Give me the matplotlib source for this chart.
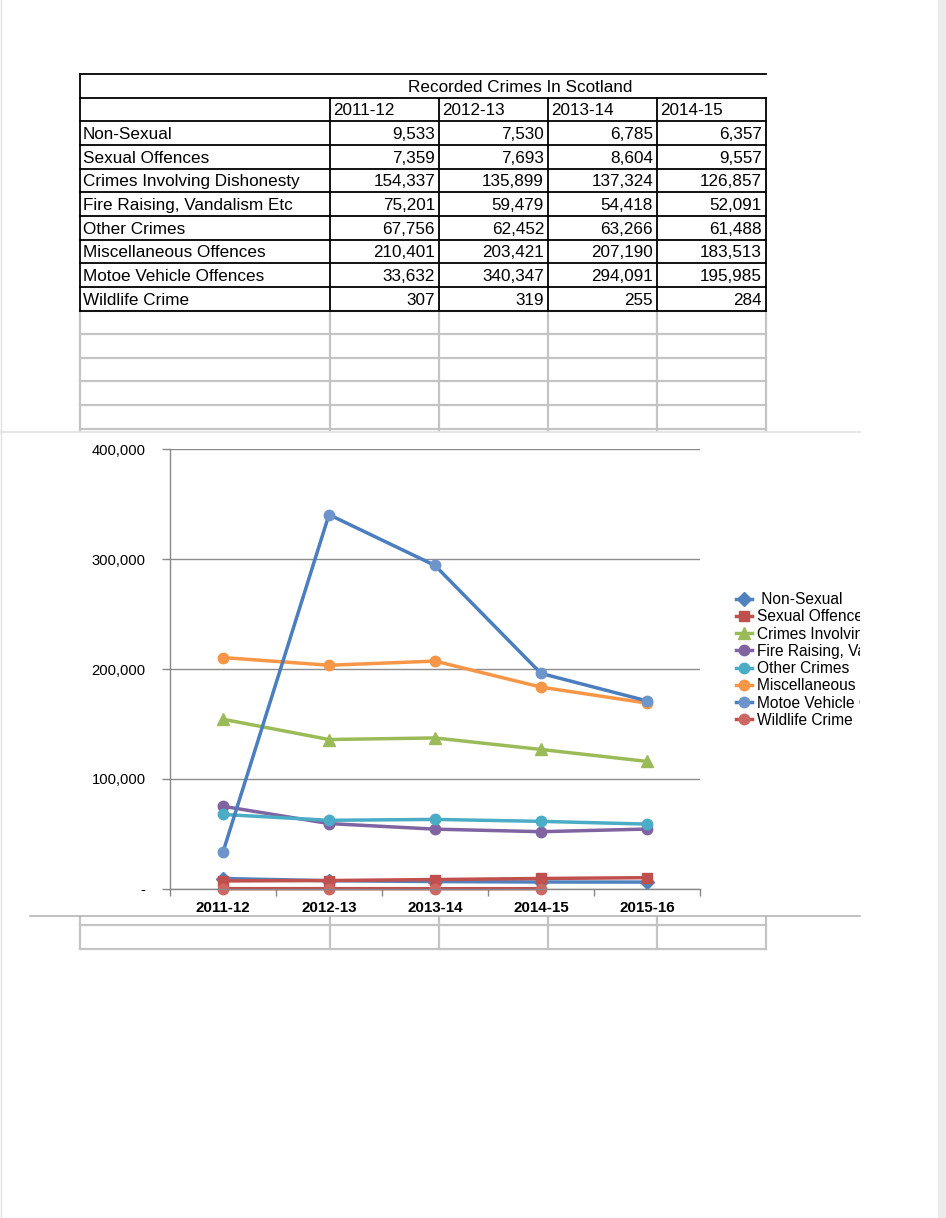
import numpy as np
import matplotlib
matplotlib.use("Agg")
import matplotlib.pyplot as plt
from matplotlib.patches import Rectangle
from matplotlib.ticker import FuncFormatter, FixedLocator

# ---------------- data ----------------
title = "Recorded Crimes In Scotland"
table_years = ["2011-12", "2012-13", "2013-14", "2014-15"]
chart_years = ["2011-12", "2012-13", "2013-14", "2014-15", "2015-16"]
categories = ["Non-Sexual", "Sexual Offences", "Crimes Involving Dishonesty",
              "Fire Raising, Vandalism Etc", "Other Crimes",
              "Miscellaneous Offences", "Motoe Vehicle Offences", "Wildlife Crime"]
non_sexual = [9533, 7530, 6785, 6357, 6300]
sexual = [7359, 7693, 8604, 9557, 10300]
dishonesty = [154337, 135899, 137324, 126857, 116000]
fire_raising = [75201, 59479, 54418, 52091, 54500]
other_crimes = [67756, 62452, 63266, 61488, 59000]
misc = [210401, 203421, 207190, 183513, 169000]
motor = [33632, 340347, 294091, 195985, 171000]
wildlife = [307, 319, 255, 284, np.nan]
series = [non_sexual, sexual, dishonesty, fire_raising, other_crimes, misc, motor, wildlife]
legend_labels = [" Non-Sexual", "Sexual Offences", "Crimes Involving Dishonesty",
                 "Fire Raising, Vandalism Etc", "Other Crimes",
                 "Miscellaneous Offences", "Motoe Vehicle Offences", "Wildlife Crime"]
y_ticks = [0, 100000, 200000, 300000, 400000]

line_colors = ["#4F81BD", "#C0504D", "#9BBB59", "#8064A2", "#4BACC6", "#F79646", "#4A7EBF", "#C0504D"]
marker_colors = ["#4F81BD", "#C0504D", "#9BBB59", "#8064A2", "#4BACC6", "#F79646", "#6D95CB", "#CD6764"]
markers = ["D", "s", "^", "o", "o", "o", "o", "o"]

tfont = ["Liberation Sans", "DejaVu Sans"]
afont = ["Liberation Sans", "DejaVu Sans"]

W, H = 946, 1218
fig = plt.figure(figsize=(W / 100, H / 100), dpi=100)
fig.patch.set_facecolor("white")

bg = fig.add_axes([0, 0, 1, 1])
bg.set_xlim(0, W)
bg.set_ylim(H, 0)
bg.axis("off")

# page edges
bg.add_patch(Rectangle((938, 0), 8, H, color="#EBEBEB", lw=0, zorder=0))
bg.plot([0.8, 0.8], [0, H], color="#E3E3E3", lw=1.0, zorder=0)

# ---------------- table ----------------
cols = [80, 330, 439, 548, 657, 766]
top = 74
rh = 23.65
n_rows = 38
rows = [top + i * rh for i in range(n_rows)]
gray = "#C4C4C4"

for i in range(10, n_rows):
    bg.plot([cols[0], cols[-1]], [rows[i], rows[i]], color=gray, lw=1.6, zorder=1)
for c in cols:
    bg.plot([c, c], [rows[10], rows[-1]], color=gray, lw=1.6, zorder=1)

k = dict(color="black", lw=1.3, zorder=2, solid_capstyle="projecting")
bg.plot([cols[0], cols[-1]], [rows[0], rows[0]], **k)
for i in range(1, 11):
    bg.plot([cols[0], cols[-1]], [rows[i], rows[i]], **k)
bg.plot([cols[0], cols[0]], [rows[0], rows[10]], **k)
for c in cols[1:]:
    bg.plot([c, c], [rows[1], rows[10]], **k)

fs_t = 12.3
bg.text(520, (rows[0] + rows[1]) / 2 + 1.5, title, ha="center", va="center",
        fontsize=fs_t, family=tfont, zorder=3)
for j, y in enumerate(table_years):
    bg.text(cols[j + 1] + 3, (rows[1] + rows[2]) / 2 + 1.5, y, ha="left", va="center",
            fontsize=fs_t, family=tfont, zorder=3)
for i, (cat, vals) in enumerate(zip(categories, series)):
    yc = (rows[i + 2] + rows[i + 3]) / 2 + 1.5
    bg.text(cols[0] + 3, yc, cat, ha="left", va="center", fontsize=fs_t, family=tfont, zorder=3)
    for j in range(len(table_years)):
        bg.text(cols[j + 2] - 4, yc, f"{int(vals[j]):,}", ha="right", va="center",
                fontsize=fs_t, family=tfont, zorder=3)

# ---------------- chart area ----------------
cx0, cx1, cy0, cy1 = 30, 860, 432, 916
bg.add_patch(Rectangle((cx0, cy0), cx1 - cx0, cy1 - cy0, facecolor="white", edgecolor="none", zorder=5))
bg.plot([0, cx1], [cy0, cy0], color="#E2E2E2", lw=1.2, zorder=6)
bg.plot([cx0, cx1], [cy1, cy1], color="#B5B5B5", lw=1.2, zorder=6)

px0, px1, py_top, py_bot = 170, 700, 449, 889
ax = fig.add_axes([px0 / W, 1 - py_bot / H, (px1 - px0) / W, (py_bot - py_top) / H], zorder=10)
ax.patch.set_alpha(0)
x = np.arange(len(chart_years))
for vals, lc, mc, m, lab in zip(series, line_colors, marker_colors, markers, legend_labels):
    ms = 7.5 if m != "^" else 8
    if m == "D":
        ms = 7
    ax.plot(x, vals, color=lc, lw=2.5, marker=m, markersize=ms, markerfacecolor=mc,
            markeredgecolor=mc, label=lab, clip_on=False)

ax.set_xlim(-0.5, len(chart_years) - 0.5)
ax.set_ylim(0, 400000)
ax.yaxis.set_major_locator(FixedLocator(y_ticks))
ax.yaxis.set_major_formatter(FuncFormatter(lambda v, p: "-" if v == 0 else f"{int(v):,}"))
ax.set_xticks(x)
ax.set_xticklabels(chart_years)
ax.set_xticks(np.arange(-0.5, len(chart_years) + 0.5, 1), minor=True)
ax.tick_params(axis="x", which="major", length=0, pad=9, labelsize=10.9)
ax.tick_params(axis="x", which="minor", length=5, width=1, color="#888888", direction="out")
ax.tick_params(axis="y", length=6, width=1, color="#888888", direction="out", pad=11.5, labelsize=10.6)
for t in ax.get_xticklabels():
    t.set_family(tfont)
    t.set_fontweight("bold")
for t in ax.get_yticklabels():
    t.set_family(afont)
ax.grid(axis="y", color="#8C8C8C", lw=1.0)
ax.set_axisbelow(True)
for s in ["top", "right"]:
    ax.spines[s].set_visible(False)
for s in ["left", "bottom"]:
    ax.spines[s].set_color("#888888")
    ax.spines[s].set_linewidth(1.0)

leg = ax.legend(loc="upper left", bbox_to_anchor=(736 / W, 1 - 592 / H),
                bbox_transform=fig.transFigure, frameon=False, borderpad=0,
                borderaxespad=0, handlelength=1.05, handletextpad=0.3, labelspacing=0.145,
                prop={"family": tfont, "size": 11.2})
clip = Rectangle((cx0, cy0), cx1 - cx0, cy1 - cy0, transform=bg.transData,
                 facecolor="none", edgecolor="none")
bg.add_patch(clip)
for t in leg.get_texts():
    t.set_clip_path(clip)
    t.set_clip_on(True)

fig.savefig("out.png", dpi=100, facecolor="white")
